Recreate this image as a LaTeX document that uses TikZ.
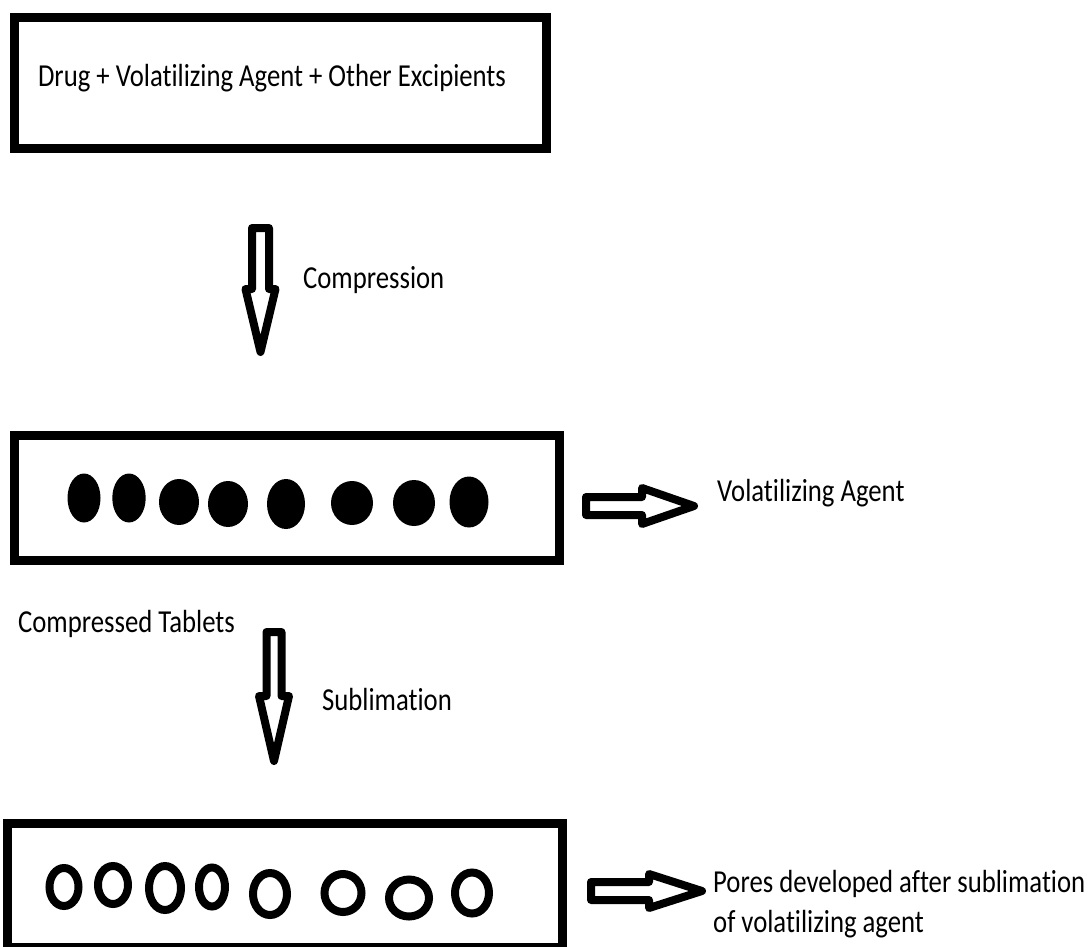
\documentclass[tikz,border=0pt]{standalone}
\usepackage{fontspec}
\setmainfont{Carlito}[Ligatures=CommonOff]
\usepackage{tikz}
\usetikzlibrary{positioning}

\begin{document}
\begin{tikzpicture}[
  x=1pt, y=-1pt,
  lbl/.style={font=\fontsize{32}{40}\selectfont, xscale=0.835, inner sep=0pt},
  stage/.style={draw, line width=9pt, inner sep=0pt},
  hollow/.style={draw, line width=8pt, line join=round},
]

\useasboundingbox (0,0) rectangle (1088,946);
\clip (0,0) rectangle (1088,946);

%% ── Stage boxes ─────────────────────────────────────────────────────────────
\node[stage, minimum width=532pt, minimum height=131pt] (mix) at (280,82.5) {};
\node[stage, minimum width=545pt, minimum height=124.5pt] (tab) at (286.5,497.75) {};
\node[stage, minimum width=554.5pt, minimum height=124.5pt] (por) at (284.75,885.25) {};

%% ── Texts ───────────────────────────────────────────────────────────────────
\node[lbl, anchor=base] (mixtxt) at (272,86)
  {Drug + Volatilizing Agent + Other Excipients};
\node[lbl, anchor=base west] (comp) at (303,288) {Compression};
\node[lbl, anchor=base west] (vol) at (717,501) {Volatilizing Agent};
\node[lbl, anchor=base west] (tabtxt) at (18,632) {Compressed Tablets};
\node[lbl, anchor=base west] (subl) at (322,710) {Sublimation};
\node[lbl, anchor=base west] (pores1) at (713,892) {Pores developed after sublimation};
\node[lbl, anchor=base west] (pores2) at (713,932) {of volatilizing agent};

%% ── Volatilizing agent particles (filled) ───────────────────────────────────
\foreach \cx/\cy/\rx/\ry in {84/498/16.5/24.5, 129/498/16.7/24.5,
    179/502/20/23, 228/504/20/23, 286/504/19/25, 352/503/21/22,
    414/503/21/23, 469/502/19.5/25.5}
  \fill (\cx,\cy) ellipse [x radius=\rx pt, y radius=\ry pt];

%% ── Pores (empty) ───────────────────────────────────────────────────────────
\foreach \cx/\cy/\rx/\ry in {64/887/14.5/19, 113/885/15/19, 165/888/16/22,
    212/887/13/19.5, 270/894/17/21, 343/893/18.5/19, 409/898/20/18.5,
    472/893/17/20.5}
  \draw[line width=8pt] (\cx,\cy) ellipse [x radius=\rx pt, y radius=\ry pt];

%% ── Hollow arrows ───────────────────────────────────────────────────────────
% down: compression
\draw[hollow] (252,228) -- (269,228) -- (269,289) -- (275.5,289) -- (260.5,352)
  -- (245.5,289) -- (252,289) -- cycle;
% down: sublimation
\draw[hollow] (266.5,632) -- (281.5,632) -- (281.5,696) -- (289,696) -- (274,761)
  -- (259,696) -- (266.5,696) -- cycle;
% right: volatilizing agent
\draw[hollow] (586,497) -- (642,497) -- (642,488) -- (694,506) -- (642,524)
  -- (642,515) -- (586,515) -- cycle;
% right: pores
\draw[hollow] (591,882) -- (649,882) -- (649,874) -- (702,891) -- (649,908)
  -- (649,900) -- (591,900) -- cycle;

\end{tikzpicture}
\end{document}
